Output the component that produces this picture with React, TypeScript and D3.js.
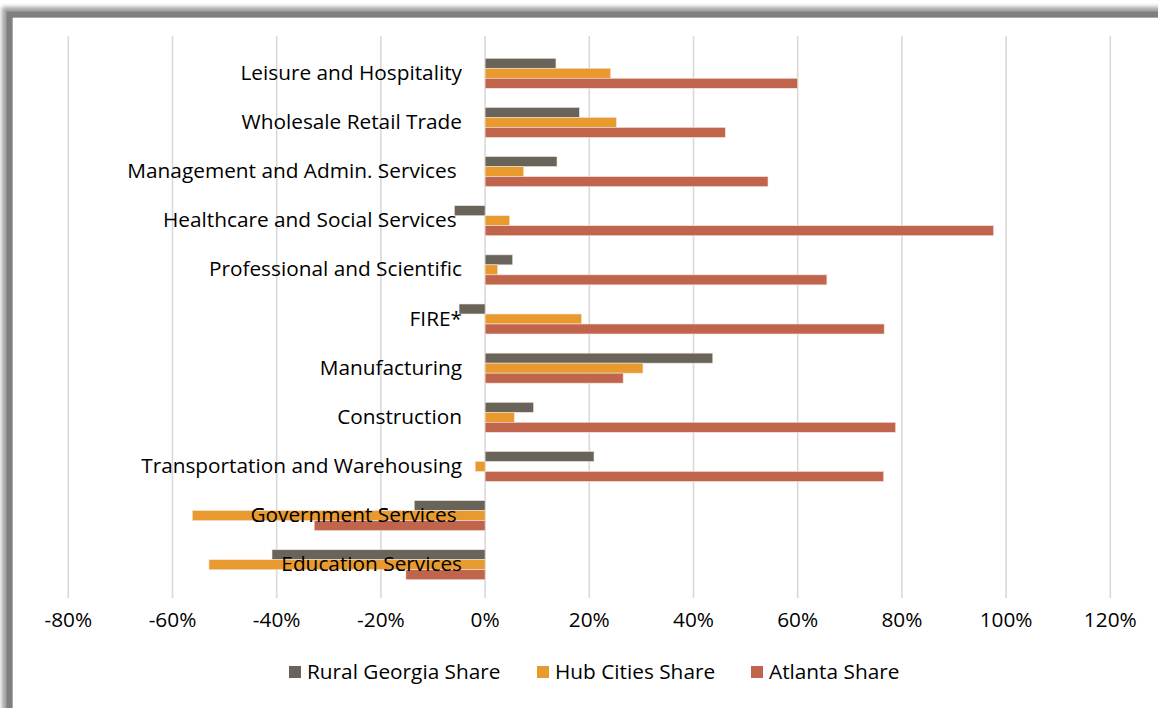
import React from "react";
import * as d3 from "d3";

const categories = [
  "Leisure and Hospitality",
  "Wholesale Retail Trade",
  "Management and Admin. Services ",
  "Healthcare and Social Services ",
  "Professional and Scientific",
  "FIRE*",
  "Manufacturing",
  "Construction",
  "Transportation and Warehousing",
  "Government Services ",
  "Education Services",
];

const seriesNames = ["Rural Georgia Share", "Hub Cities Share", "Atlanta Share"];
const seriesColors = ["#686459", "#E99A2F", "#C0644C"];

const ruralShare = [13.6, 18.1, 13.8, -5.9, 5.3, -5.0, 43.7, 9.3, 20.9, -13.6, -40.9];
const hubShare = [24.1, 25.2, 7.4, 4.7, 2.4, 18.5, 30.3, 5.6, -1.9, -56.2, -53.0];
const atlantaShare = [60.0, 46.1, 54.3, 97.6, 65.6, 76.6, 26.5, 78.8, 76.5, -32.8, -15.2];

const xTicks = [-80, -60, -40, -20, 0, 20, 40, 60, 80, 100, 120];

const W = 1158;
const H = 708;

export default function App() {
  const x = d3.scaleLinear().domain([-80, 120]).range([68.3, 1110.3]);
  const y = d3.scaleBand<string>().domain(categories).range([48.7, 589.3]).paddingInner(0).paddingOuter(0);
  const groupH = 30;
  const inner = d3.scaleBand<number>().domain([0, 1, 2]).range([0, groupH]);
  const series = [ruralShare, hubShare, atlantaShare];
  const font = "'Open Sans', sans-serif";
  const fs = 20.8;

  const label = (c: string, key: string) => (
    <text
      key={key}
      x={462}
      y={(y(c) as number) + y.bandwidth() / 2 - 1.5}
      textAnchor="end"
      dominantBaseline="central"
      fontFamily={font}
      fontSize={fs}
      fill="#000"
      style={{ whiteSpace: "pre" }}
    >
      {c}
    </text>
  );

  return (
    <svg
      width={W}
      height={H}
      style={{ position: "absolute", left: 0, top: 0, background: "#fff" }}
    >
      <defs>
        <filter id="blur" x="-5%" y="-5%" width="110%" height="110%">
          <feGaussianBlur stdDeviation="2" />
        </filter>
      </defs>
      {/* frame */}
      <rect x={7} y={12} width={1200} height={760} fill="none" stroke="#a0a0a0" strokeWidth={10} filter="url(#blur)" />
      <rect x={9.5} y={14.5} width={1200} height={760} fill="none" stroke="#7f7f7f" strokeWidth={6} />
      <rect x={13} y={18} width={1200} height={760} fill="#fff" />

      {/* gridlines */}
      {xTicks.map((t) => (
        <line key={t} x1={x(t)} x2={x(t)} y1={36} y2={598} stroke="#d9d9d9" strokeWidth={1.6} />
      ))}

      {/* category labels */}
      {categories.map((c) => label(c, c))}

      {/* bars */}
      {series.map((vals, si) =>
        vals.map((v, i) => {
          const c = categories[i];
          const top = (y(c) as number) + (y.bandwidth() - groupH) / 2 + (inner(si) as number);
          const x0 = x(Math.min(0, v));
          const x1 = x(Math.max(0, v));
          return (
            <rect
              key={`${si}-${i}`}
              x={x0}
              y={top}
              width={x1 - x0}
              height={inner.bandwidth()}
              fill={seriesColors[si]}
              stroke="#f3e3dc"
              strokeWidth={0.6}
            />
          );
        })
      )}

      {/* labels overlapping negative bars stay on top */}
      {categories.map((c, i) => (ruralShare[i] < -10 ? label(c, "o" + c) : null))}

      {/* x tick labels */}
      {xTicks.map((t) => (
        <text
          key={"t" + t}
          x={x(t)}
          y={619}
          textAnchor="middle"
          dominantBaseline="central"
          fontFamily={font}
          fontSize={fs}
          fill="#000"
        >
          {`${t}%`}
        </text>
      ))}

      {/* legend */}
      {seriesNames.map((s, i) => {
        const lx = [289, 537, 751][i];
        return (
          <g key={s}>
            <rect x={lx} y={666} width={12} height={12} fill={seriesColors[i]} />
            <text
              x={lx + 18}
              y={671}
              dominantBaseline="central"
              fontFamily={font}
              fontSize={fs}
              fill="#000"
            >
              {s}
            </text>
          </g>
        );
      })}
    </svg>
  );
}
